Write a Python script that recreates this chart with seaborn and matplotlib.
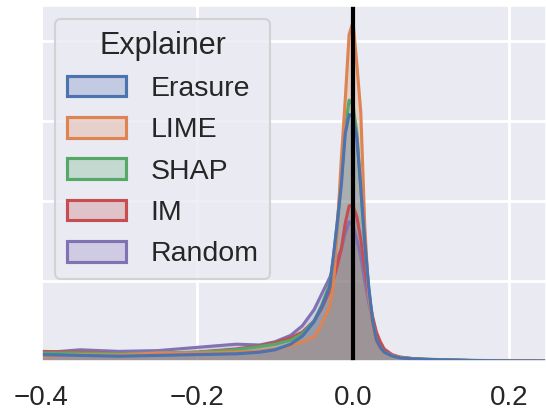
import seaborn as sns
import pandas as pd
import numpy as np
import matplotlib.pyplot as plt
from matplotlib.patches import Patch
from matplotlib.colors import to_rgba

# density curves (x = score difference)
x_vals = [-0.40, -0.35, -0.30, -0.25, -0.20, -0.15, -0.12, -0.10, -0.08, -0.065,
          -0.05, -0.04, -0.03, -0.025, -0.02, -0.015, -0.01, -0.005, 0.0, 0.005,
          0.01, 0.015, 0.02, 0.025, 0.03, 0.035, 0.04, 0.05, 0.06, 0.075,
          0.09, 0.115, 0.15, 0.20, 0.25]

erasure = [0.40, 0.35, 0.30, 0.35, 0.40, 0.45, 0.55, 0.70, 1.05, 1.55,
           2.45, 3.4, 4.6, 6.6, 8.7, 11.0, 14.2, 15.4, 15.3, 13.9,
           10.8, 7.5, 4.7, 2.5, 1.3, 0.85, 0.55, 0.32, 0.20, 0.14,
           0.10, 0.07, 0.03, 0.01, 0.0]
lime = [0.30, 0.40, 0.38, 0.50, 0.50, 0.55, 0.62, 0.75, 0.95, 1.2,
        1.5, 2.3, 3.4, 4.8, 8.3, 12.6, 16.3, 20.4, 21.2, 18.5,
        15.5, 8.5, 4.2, 2.2, 1.2, 0.8, 0.55, 0.35, 0.22, 0.13,
        0.08, 0.05, 0.03, 0.03, 0.02]
shap = [0.50, 0.50, 0.45, 0.50, 0.55, 0.70, 0.90, 1.05, 1.3, 1.7,
        2.5, 3.5, 4.8, 6.5, 8.8, 11.3, 14.5, 16.3, 16.0, 14.2,
        10.8, 7.3, 4.6, 2.5, 1.3, 0.85, 0.55, 0.33, 0.22, 0.15,
        0.12, 0.08, 0.04, 0.01, 0.0]
im = [0.60, 0.55, 0.45, 0.45, 0.55, 0.75, 0.95, 1.15, 1.45, 1.8,
      2.5, 3.3, 4.4, 5.1, 6.0, 7.0, 8.6, 9.7, 9.7, 9.0,
      7.6, 5.8, 4.2, 2.8, 1.8, 1.2, 0.75, 0.40, 0.25, 0.16,
      0.11, 0.07, 0.03, 0.01, 0.0]
random_ = [0.50, 0.70, 0.60, 0.65, 0.85, 1.05, 1.0, 1.2, 1.6, 2.2,
           3.2, 4.2, 5.2, 5.8, 6.4, 7.0, 8.0, 8.7, 8.5, 7.6,
           6.5, 5.0, 3.7, 2.5, 1.6, 1.0, 0.65, 0.35, 0.22, 0.14,
           0.10, 0.06, 0.03, 0.01, 0.0]

explainers = ["Erasure", "LIME", "SHAP", "IM", "Random"]
curves = [erasure, lime, shap, im, random_]
x_ticks = [-0.4, -0.2, 0.0, 0.2]

df = pd.concat([
    pd.DataFrame({"x": x_vals, "density": c, "Explainer": name})
    for name, c in zip(explainers, curves)
], ignore_index=True)

sns.set_theme(style="darkgrid", context="talk")
plt.rcParams['font.family'] = ['Liberation Sans', 'DejaVu Sans']
plt.rcParams['axes.unicode_minus'] = True

palette = dict(zip(explainers, sns.color_palette("deep", 5)))

fig = plt.figure(figsize=(5.46, 4.13), dpi=100)
ax = fig.add_axes([41 / 546, 52 / 413, 505 / 546, 356 / 413])

# first explainer ends up on top, like kdeplot's layering
for name in explainers[::-1]:
    sub = df[df["Explainer"] == name]
    col = palette[name]
    ax.fill_between(sub["x"], sub["density"], color=col, alpha=0.25, lw=0)
    sns.lineplot(data=sub, x="x", y="density", color=col, lw=2.25, ax=ax)

ax.axvline(0, color="black", lw=3)

ax.set_xlim(-0.4, 0.2474)
ax.set_ylim(0, 22.25)
ax.set_xticks(x_ticks)
ax.set_yticks([0, 5, 10, 15, 20])
ax.set_yticklabels([])
ax.set_xlabel("")
ax.set_ylabel("")
ax.tick_params(axis="x", labelsize=20, pad=8)
ax.grid(lw=2)

handles = [Patch(facecolor=to_rgba(palette[n], 0.25), edgecolor=palette[n], lw=2.25)
           for n in explainers]
leg = ax.legend(handles, explainers, title="Explainer", loc="upper left",
                fontsize=20.5, title_fontsize=22, handlelength=2.1, handleheight=0.74,
                handletextpad=0.84, labelspacing=0.53)

plt.savefig("out.png", dpi=100)
plt.close()
